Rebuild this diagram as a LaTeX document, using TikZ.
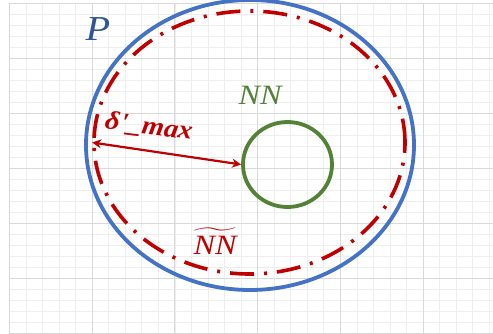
\documentclass[tikz,border=0pt]{standalone}
\usepackage{fix-cm}
\usepackage{amsmath}
\usepackage{fontspec}
\setmainfont{Liberation Serif}
\usepackage{xcolor}
\usepackage{tikz}
\usetikzlibrary{positioning,arrows.meta,shapes.geometric}
\definecolor{gridmajor}{HTML}{D9D9D9}
\definecolor{gridminor}{HTML}{EEEEEE}
\definecolor{setblue}{HTML}{4472C4}
\definecolor{labblue}{HTML}{2F5597}
\definecolor{nnred}{HTML}{C00000}
\definecolor{nngreen}{HTML}{538135}
\tikzset{
  gridmin/.style = {draw=gridminor, line width=0.6pt},
  gridmaj/.style = {draw=gridmajor, line width=0.9pt},
  region/.style  = {ellipse, draw, inner sep=0pt, line width=3.8pt},
  outer/.style   = {region, draw=setblue, minimum width=328pt, minimum height=290pt},
  approx/.style  = {region, draw=nnred, line width=3.6pt,
                    dash pattern=on 24pt off 10pt on 3pt off 10pt,
                    minimum width=311pt, minimum height=263pt},
  inner/.style   = {region, draw=nngreen, minimum width=89pt, minimum height=85pt},
  arr/.style     = {{Stealth[length=9pt,width=9pt]}-{Stealth[length=9pt,width=9pt]},
                    line width=2.2pt, draw=nnred},
  lab/.style     = {inner sep=1pt, xscale=1.15, font=\fontsize{28}{30}\selectfont\itshape},
}

\begin{document}
\begin{tikzpicture}[x=1pt,y=-1pt]
  \fill[white] (0,0) rectangle (493,333);
  \useasboundingbox (0,0) rectangle (493,333);
  % grid paper
  \foreach \i in {0,...,29}
    \draw[gridmin] ({9.3+16.55*\i},3.3) -- ({9.3+16.55*\i},333);
  \foreach \j in {0,...,30}
    \draw[gridmin] (9.3,{3.3+11*\j}) -- (493,{3.3+11*\j});
  \foreach \i in {0,...,5}
    \draw[gridmaj] ({9.3+82.75*\i},3.3) -- ({9.3+82.75*\i},333);
  \foreach \j in {0,...,6}
    \draw[gridmaj] (9.3,{3.3+55*\j}) -- (493,{3.3+55*\j});

  \node[outer]  (P)   at (250,145)   {};
  \node[approx] (nnt) at (249.5,142.5) {};
  \node[inner]  (nn)  at (287.5,164.5) {};

  \draw[arr] (nnt.west) -- (nn.west);

  \node[lab, text=labblue, font=\fontsize{35}{37}\selectfont\itshape] (plab) at (98,29) {P};
  \node[lab, text=nngreen] (nnlab) at (260,95) {NN};
  \node[lab, text=nnred] (nntlab) at (215,241) {$\boldsymbol{\widetilde{\text{\mdseries\itshape NN}}}$};
  \node[lab, text=nnred, rotate=-8, xscale=0.96, font=\fontsize{26}{28}\selectfont\bfseries\itshape]
        (dlab) at (149,127) {δ\textquotesingle\_max};
\end{tikzpicture}
\end{document}
